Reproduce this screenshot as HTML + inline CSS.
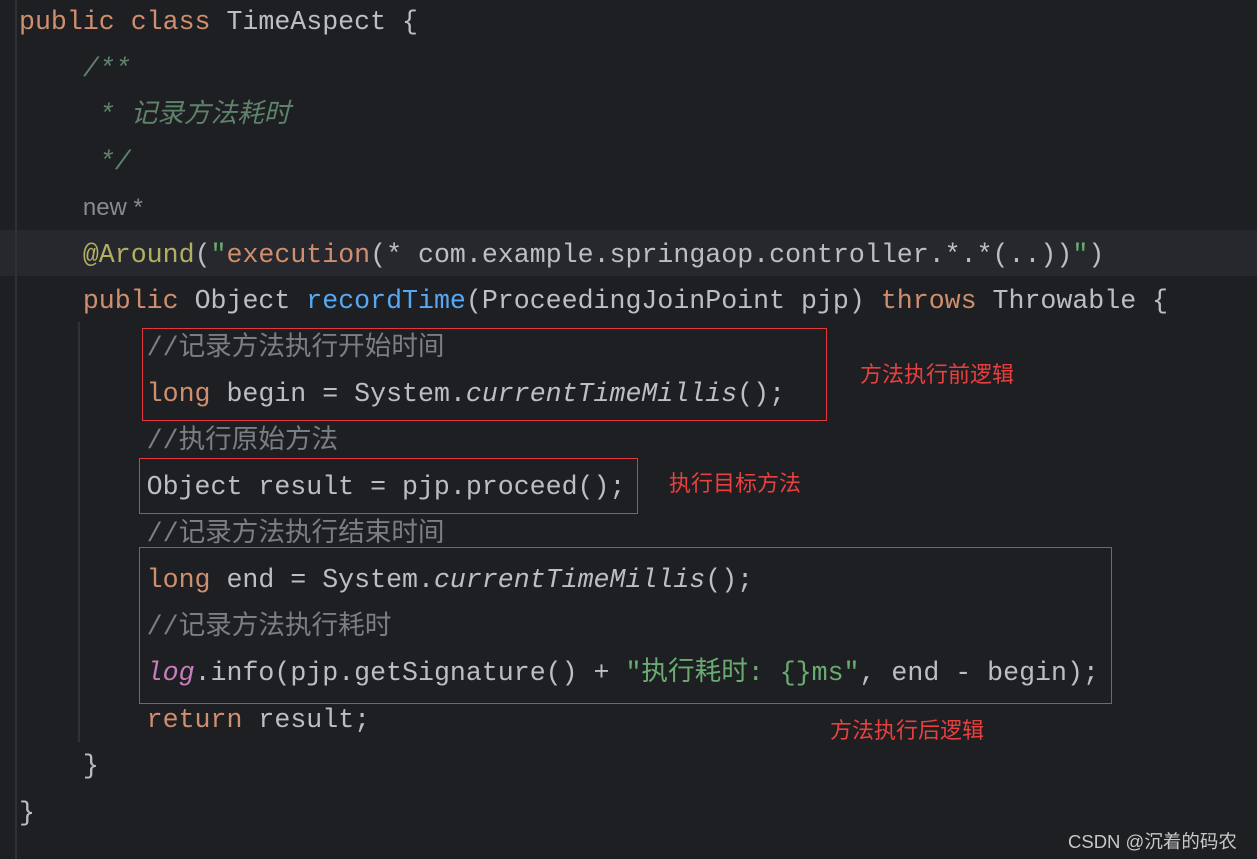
<!DOCTYPE html>
<html><head><meta charset="utf-8"><style>
html,body{margin:0;padding:0;}
body{width:1257px;height:859px;background:#1e1f22;position:relative;overflow:hidden;}
.hl{position:absolute;left:0;top:230px;width:1257px;height:46px;background:#26282e;}
.g1{position:absolute;left:15px;top:0;width:2px;height:859px;background:#2f3135;}
.g2{position:absolute;left:78px;top:322px;width:2px;height:420px;background:#2f3135;}
pre{position:absolute;left:19px;top:-1px;margin:0;font-family:"Liberation Mono","Noto Sans CJK SC",monospace;font-size:26.6px;line-height:46.5px;color:#bcbec4;}
.k{color:#cf8e6d}.c{color:#7a7e85}.d{color:#5f826b;font-style:italic}.m{color:#56a8f5}.s{color:#6aab73}.a{color:#b3ae60}.i{font-style:italic}.p{color:#c77dbb;font-style:italic}
.h{color:#868a91;font-family:"Liberation Sans",sans-serif;font-size:24px}
.box{position:absolute;border:1px solid #e0383d;}
.lb{position:absolute;color:#e8403f;font-family:"Liberation Sans","Noto Sans CJK SC",sans-serif;font-size:22px;line-height:24px;}
.wm{position:absolute;left:1068px;top:828px;color:#c8c8c8;font-family:"Liberation Sans","Noto Sans CJK SC",sans-serif;font-size:18.5px;}
</style></head><body>
<div class="hl"></div><div class="g1"></div><div class="g2"></div>
<pre><span class="k">public class</span> TimeAspect {
    <span class="d">/**</span>
     <span class="d">* 记录方法耗时</span>
     <span class="d">*/</span>
    <span class="h">new *</span>
    <span class="a">@Around</span>(<span class="s">"</span><span class="k">execution</span>(* com.example.springaop.controller.*.*(..))<span class="s">"</span>)
    <span class="k">public</span> Object <span class="m">recordTime</span>(ProceedingJoinPoint pjp) <span class="k">throws</span> Throwable {
        <span class="c">//记录方法执行开始时间</span>
        <span class="k">long</span> begin = System.<span class="i">currentTimeMillis</span>();
        <span class="c">//执行原始方法</span>
        Object result = pjp.proceed();
        <span class="c">//记录方法执行结束时间</span>
        <span class="k">long</span> end = System.<span class="i">currentTimeMillis</span>();
        <span class="c">//记录方法执行耗时</span>
        <span class="p">log</span>.info(pjp.getSignature() + <span class="s">"执行耗时: {}ms"</span>, end - begin);
        <span class="k">return</span> result;
    }
}</pre>
<div class="box" style="left:142px;top:328px;width:683px;height:91px;"></div>
<div class="box" style="left:139px;top:458px;width:497px;height:54px;"></div>
<div class="box" style="left:139px;top:547px;width:971px;height:155px;"></div>
<div class="lb" style="left:860px;top:363px;">方法执行前逻辑</div>
<div class="lb" style="left:669px;top:472px;">执行目标方法</div>
<div class="lb" style="left:830px;top:719px;">方法执行后逻辑</div>
<div class="wm">CSDN @沉着的码农</div>
</body></html>
